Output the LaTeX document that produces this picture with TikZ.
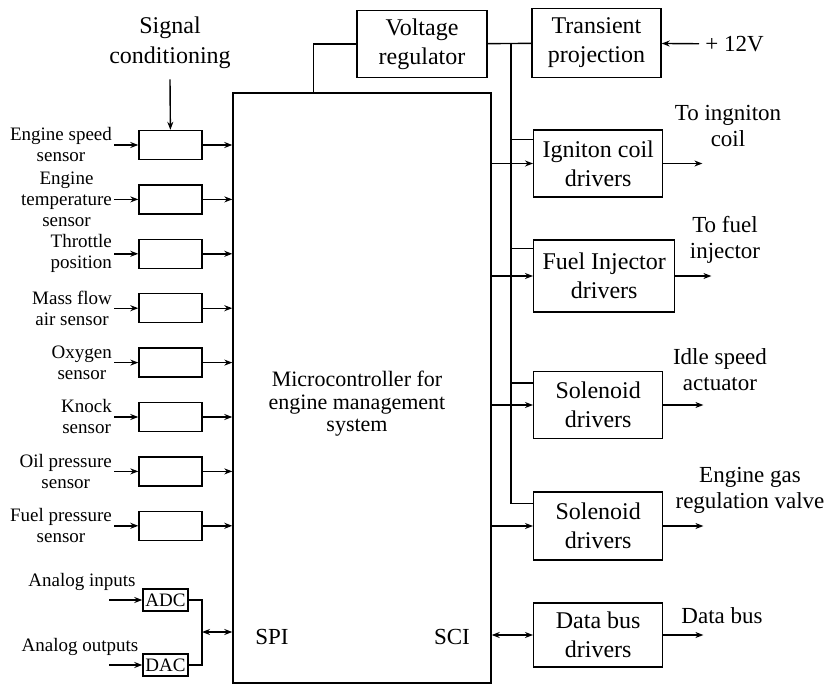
\documentclass[tikz,border=0pt]{standalone}
\usepackage{fontspec}
\setmainfont{Liberation Serif}
\usetikzlibrary{arrows.meta, positioning}
\tikzset{
  % framed block
  blk/.style={draw, line width=0.7pt, align=center, inner sep=1pt},
  % block variants
  sensbox/.style={blk, minimum width=31.5pt, minimum height=14.5pt},
  drvbox/.style={blk, minimum width=64.5pt, minimum height=33.5pt,
    font=\fontsize{12}{14.5}\selectfont},
  convbox/.style={blk, minimum width=22.5pt, minimum height=11pt,
    font=\fontsize{9.5}{10}\selectfont},
  % texts
  slabel/.style={align=center, inner sep=1pt, font=\fontsize{9.5}{10.5}\selectfont},
  olabel/.style={align=center, inner sep=1pt, font=\fontsize{11.5}{13}\selectfont},
  mlabel/.style={align=center, inner sep=1pt, font=\fontsize{11}{11.2}\selectfont},
  % connectors
  wire/.style={line width=0.7pt},
  arr/.style={-{Stealth[length=4pt,width=3pt]}, line width=0.7pt},
  darr/.style={{Stealth[length=4pt,width=3pt]}-{Stealth[length=4pt,width=3pt]}, line width=0.7pt},
}

\begin{document}
\begin{tikzpicture}[x=0.5pt, y=-0.5pt]

  \useasboundingbox (0,0) rectangle (832,685);

  %% microcontroller
  \node[blk, minimum width=129pt, minimum height=295pt] (mc) at (362,388) {};
  \node[mlabel] (mctxt) at (357,404) {Microcontroller for\\engine management\\system};
  \node[olabel] (spi) at (272,637) {SPI};
  \node[olabel] (sci) at (452,637) {SCI};

  %% supply
  \node[drvbox, minimum width=65pt] (vr) at (422,44) {Voltage\\regulator};
  \node[drvbox, minimum height=34.5pt] (tp) at (596.5,43) {Transient\\projection};
  \node[olabel, anchor=west, inner sep=3pt] (v12) at (699,44) {+ 12V};
  \coordinate (bus) at (511,44);

  %% sensors
  \node[olabel, font=\fontsize{12}{15}\selectfont] (sig) at (170,43) {Signal\\conditioning};

  \node[sensbox] (s1) at (170.5,145) {};
  \node[sensbox, below=12pt of s1] (s2) {};
  \node[sensbox, below=12pt of s2] (s3) {};
  \node[sensbox, below=12pt of s3] (s4) {};
  \node[sensbox, below=12pt of s4] (s5) {};
  \node[sensbox, below=12pt of s5] (s6) {};
  \node[sensbox, below=12pt of s6] (s7) {};
  \node[sensbox, below=12pt of s7] (s8) {};

  \node[slabel, left=12pt of s1] (l1) {Engine speed\\sensor};
  \node[slabel, left=12pt of s2] (l2) {Engine\\temperature\\sensor};
  \node[slabel, left=12pt of s3] (l3) {Throttle\\position};
  \node[slabel, left=12pt of s4] (l4) {Mass flow\\air sensor};
  \node[slabel, left=12pt of s5] (l5) {Oxygen\\sensor};
  \node[slabel, left=12pt of s6] (l6) {Knock\\sensor};
  \node[slabel, left=12pt of s7] (l7) {Oil pressure\\sensor};
  \node[slabel, left=12pt of s8] (l8) {Fuel pressure\\sensor};

  %% analog converters
  \node[convbox] (adc) at (165.5,600) {ADC};
  \node[convbox] (dac) at (165.5,665) {DAC};
  \coordinate[left=16.5pt of adc] (adcin);
  \coordinate[left=16.5pt of dac] (dacin);
  \node[slabel] (ain) at (82,582) {Analog inputs};
  \node[slabel] (aout) at (80,647) {Analog outputs};
  \coordinate (spij) at (202,632);

  %% drivers
  \node[drvbox, anchor=west] (ign) at (533,163.5) {Igniton coil\\drivers};
  \node[drvbox, anchor=west, minimum width=70.5pt, minimum height=36pt] (fuel) at (533,276) {Fuel Injector\\drivers};
  \node[drvbox, anchor=west] (sol1) at (533,405) {Solenoid\\drivers};
  \node[drvbox, anchor=west, minimum height=34pt] (sol2) at (533,526) {Solenoid\\drivers};
  \node[drvbox, anchor=west, minimum height=32pt] (dbd) at (533,635) {Data bus\\drivers};

  \coordinate[right=19.5pt of ign] (ignout);
  \coordinate[right=18pt of fuel] (fuelout);
  \coordinate[right=20pt of sol1] (sol1out);
  \coordinate[right=20pt of sol2] (sol2out);
  \coordinate[right=20pt of dbd] (dbdout);

  \node[olabel] (ignl) at (728,126) {To ingniton\\coil};
  \node[olabel] (fuell) at (725,240) {To fuel\\injector};
  \node[olabel] (sol1l) at (720,370) {Idle speed\\actuator};
  \node[olabel] (sol2l) at (750,490) {Engine gas\\regulation valve};
  \node[olabel] (dbdl) at (722,616) {Data bus};

  %% Arrows
  \draw[arr] ([yshift=-4pt]sig.south) -- (s1);
  \foreach \i in {1,...,8} {
    \draw[arr] (l\i) -- (s\i);
    \draw[arr] (s\i) -- (s\i -| mc.west);
  }

  \draw[arr] (adcin) -- (adc);
  \draw[arr] (dacin) -- (dac);
  \draw[wire] (adc.east) -| (spij) |- (dac.east);
  \draw[darr] (spij) -- (spij -| mc.west);

  \draw[wire] (vr.west) -| ([xshift=40.5pt]mc.north west);
  \draw[wire] (vr) -- (tp);
  \draw[arr] (v12) -- (tp);

  \draw[wire] (bus) |- ([yshift=-6pt]sol2.north west);
  \draw[wire] ([yshift=-5pt]ign.north west) -- ++(-11pt,0);
  \draw[wire] ([yshift=-4.5pt]fuel.north west) -- ++(-11pt,0);
  \draw[wire] ([yshift=-6pt]sol1.north west) -- ++(-11pt,0);

  \draw[arr] (mc.east |- ign.west) -- (ign.west);
  \draw[arr] (mc.east |- fuel.west) -- (fuel.west);
  \draw[arr] (mc.east |- sol1.west) -- (sol1.west);
  \draw[arr] (mc.east |- sol2.west) -- (sol2.west);
  \draw[darr] (mc.east |- dbd.west) -- (dbd.west);

  \draw[arr] (ign) -- (ignout);
  \draw[arr] (fuel) -- (fuelout);
  \draw[arr] (sol1) -- (sol1out);
  \draw[arr] (sol2) -- (sol2out);
  \draw[arr] (dbd) -- (dbdout);

\end{tikzpicture}
\end{document}
